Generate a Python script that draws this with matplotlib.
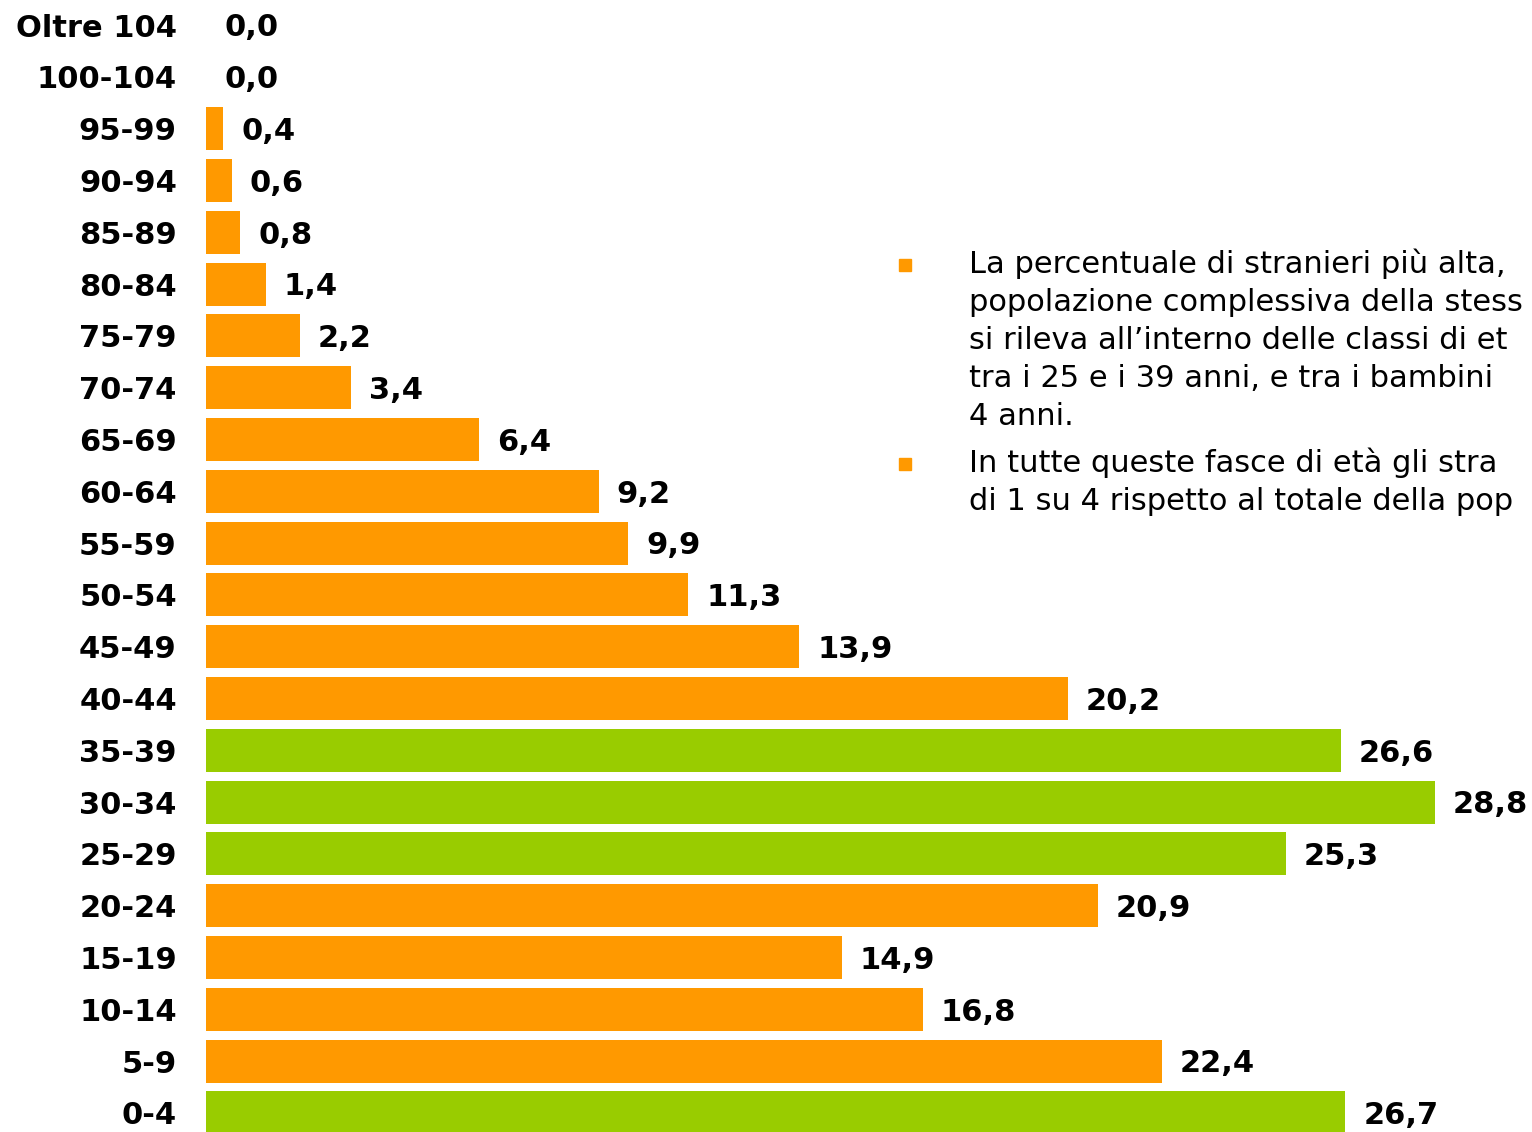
import numpy as np
import matplotlib
matplotlib.use('Agg')
import matplotlib.pyplot as plt
import matplotlib.patches as patches

# age classes from bottom to top
classes = ['0-4', '5-9', '10-14', '15-19', '20-24', '25-29', '30-34', '35-39',
           '40-44', '45-49', '50-54', '55-59', '60-64', '65-69', '70-74',
           '75-79', '80-84', '85-89', '90-94', '95-99', '100-104', 'Oltre 104']
values = [26.7, 22.4, 16.8, 14.9, 20.9, 25.3, 28.8, 26.6,
          20.2, 13.9, 11.3, 9.9, 9.2, 6.4, 3.4,
          2.2, 1.4, 0.8, 0.6, 0.4, 0.0, 0.0]
highlight = ['0-4', '25-29', '30-34', '35-39']

# text as visible in the slide (cut at the right edge)
bullets = [
    ['La percentuale di stranieri più alta,',
     'popolazione complessiva della stess',
     'si rileva all\u2019interno delle classi di et',
     'tra i 25 e i 39 anni, e tra i bambini',
     '4 anni.'],
    ['In tutte queste fasce di età gli stra',
     'di 1 su 4 rispetto al totale della pop'],
]

orange = '#FF9900'
green = '#99CC00'

W, H = 1532, 1132
fig = plt.figure(figsize=(W / 100, H / 100), dpi=100)
ax = fig.add_axes([206 / W, 0, 1 - 206 / W, 1])

y = np.arange(len(classes))
colors = [green if c in highlight else orange for c in classes]
ax.barh(y, values, height=0.83, color=colors)

for i, v in enumerate(values):
    ax.annotate('{:.1f}'.format(v).replace('.', ','), (v, i), xytext=(13, -2),
                textcoords='offset points', va='center', ha='left',
                fontsize=22, fontweight='bold', color='black')

ax.set_xlim(0, (W - 206) / 42.67)
ax.set_ylim(-19 / 51.8, 21 + 25 / 51.8)
ax.set_yticks(y)
ax.set_yticklabels(classes, fontsize=22, fontweight='bold')
ax.tick_params(axis='y', length=0, pad=21)
ax.set_xticks([])
for s in ax.spines.values():
    s.set_visible(False)

# bullet text on the right
baselines = [[273, 311, 349, 387, 425], [472, 510]]
for lines, ys in zip(bullets, baselines):
    fig.patches.append(patches.Rectangle((899 / W, 1 - (ys[0] - 2) / H), 12 / W, 12 / H,
                                         transform=fig.transFigure, color=orange))
    for line, yb in zip(lines, ys):
        fig.text(969 / W, 1 - yb / H, line, fontsize=22, va='baseline', ha='left', color='black')

fig.savefig('out.png', dpi=100)
